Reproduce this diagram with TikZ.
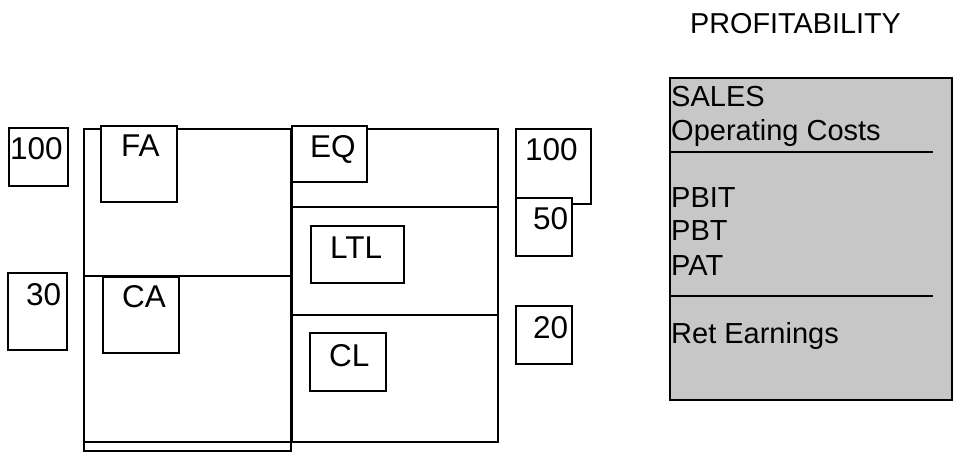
\documentclass[tikz,border=0pt]{standalone}
\usepackage{fontspec}
\setmainfont{Liberation Sans}
\begin{document}
\begin{tikzpicture}[x=1pt,y=-1pt,
  frame/.style={draw=black,line width=2pt},
  box/.style={draw=black,line width=2pt,fill=white},
  lbl/.style={font=\fontsize{31.5}{36}\selectfont,inner sep=0pt,anchor=base west},
  ptxt/.style={font=\fontsize{29}{34}\selectfont,inner sep=0pt,anchor=base west},
  panel/.style={draw=black,line width=2pt,fill=black!22},
  rule/.style={draw=black,line width=1.6pt}]
\useasboundingbox (0,0) rectangle (957,459);
% balance sheet blocks
\draw[frame] (84,129) rectangle (291,451);
\draw[frame] (84,276) -- (291,276);
\draw[frame] (84,442) -- (498,442);
\draw[frame] (292,129) rectangle (498,442);
\draw[frame] (292,207) -- (498,207);
\draw[frame] (292,315) -- (498,315);
% inner boxes
\draw[box] (101,126) rectangle (177,202);
\draw[box] (103,277) rectangle (179,353);
\draw[box] (292,126) rectangle (367,182);
\draw[box] (311,226) rectangle (404,283);
\draw[box] (310,333) rectangle (386,391);
% side value boxes
\draw[box] (9,128) rectangle (68,186);
\draw[box] (8,273) rectangle (67,350);
\draw[box] (516,129) rectangle (591,204);
\draw[box] (516,198) rectangle (572,256);
\draw[box] (516,306) rectangle (572,364);
% labels
\node[lbl] (fa) at (121,156) {FA};
\node[lbl] (ca) at (122,307) {CA};
\node[lbl] (eq) at (310,157) {EQ};
\node[lbl] (ltl) at (330,258) {LTL};
\node[lbl] (cl) at (329,366) {CL};
\node[lbl] (v100a) at (10,159) {100};
\node[lbl] (v30) at (26,305) {30};
\node[lbl] (v100b) at (525,160) {100};
\node[lbl] (v50) at (533,229) {50};
\node[lbl] (v20) at (533,338) {20};
% profitability panel
\node[font=\fontsize{28.8}{34}\selectfont,inner sep=0pt,anchor=base west] (title) at (690,33) {PROFITABILITY};
\draw[panel] (670,78) rectangle (952,400);
\draw[rule] (670,152) -- (933,152);
\draw[rule] (670,296) -- (933,296);
\node[ptxt] (sales) at (671,106) {SALES};
\node[ptxt] (opc) at (671,140) {Operating Costs};
\node[ptxt] (pbit) at (671,207) {PBIT};
\node[ptxt] (pbt) at (671,240) {PBT};
\node[ptxt] (pat) at (671,275) {PAT};
\node[ptxt] (ret) at (671,343) {Ret Earnings};
\end{tikzpicture}
\end{document}
